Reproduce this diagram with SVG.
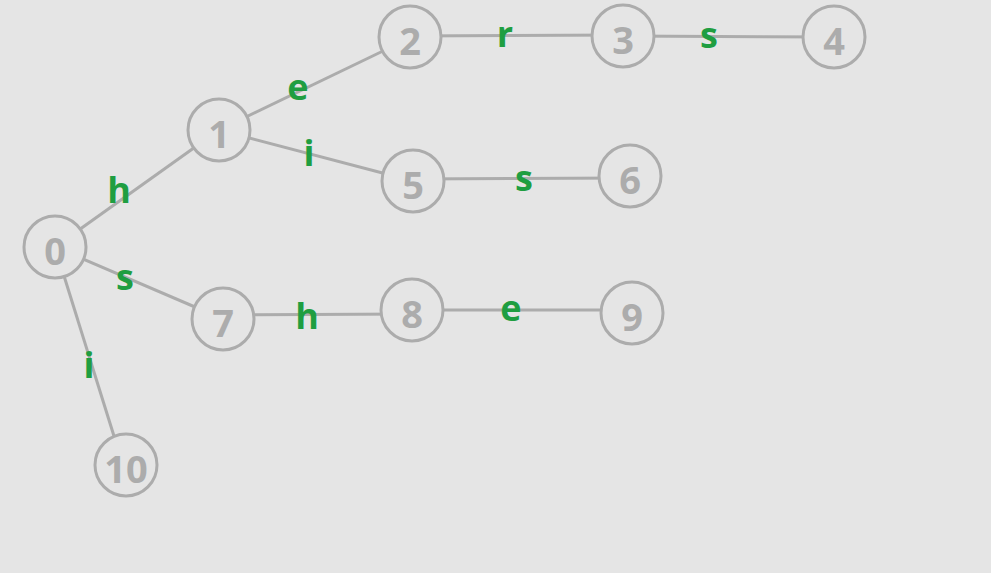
<svg xmlns="http://www.w3.org/2000/svg" width="991" height="573" viewBox="0 0 991 573">
<style>
.bg{fill:#e5e5e5}
.edge{stroke:#acacac;stroke-width:3;fill:none}
.node circle{fill:#e5e5e5;stroke:#acacac;stroke-width:3}
.node text{font-family:"Open Sans","Noto Sans",sans-serif;font-weight:bold;font-size:38px;fill:#acacac;text-anchor:middle}
.lbl{font-family:"Open Sans","Noto Sans",sans-serif;font-weight:bold;font-size:36px;fill:#1f9e41;text-anchor:middle}
</style>
<rect class="bg" x="0" y="0" width="991" height="573"/>
<g id="connectors">
<line class="edge" x1="55" y1="247" x2="219" y2="130"/>
<line class="edge" x1="219" y1="130" x2="410" y2="38"/>
<line class="edge" x1="410" y1="36" x2="623" y2="35"/>
<line class="edge" x1="623" y1="36" x2="834" y2="37"/>
<line class="edge" x1="219" y1="130" x2="413" y2="181"/>
<line class="edge" x1="413" y1="179" x2="630" y2="178"/>
<line class="edge" x1="55" y1="247" x2="223" y2="319"/>
<line class="edge" x1="223" y1="315" x2="412" y2="314"/>
<line class="edge" x1="412" y1="310" x2="632" y2="310"/>
<line class="edge" x1="55" y1="247" x2="123" y2="465"/>
<text class="lbl" x="119" y="203">h</text>
<text class="lbl" x="298" y="100">e</text>
<text class="lbl" x="309" y="166">i</text>
<text class="lbl" x="505" y="47">r</text>
<text class="lbl" x="709" y="48">s</text>
<text class="lbl" x="524" y="191">s</text>
<text class="lbl" x="125" y="290">s</text>
<text class="lbl" x="307" y="329">h</text>
<text class="lbl" x="511" y="321">e</text>
<text class="lbl" x="89" y="378">i</text>
</g>
<g id="n0" class="node"><circle cx="55" cy="247" r="31"/><text x="55" y="265">0</text></g>
<g id="n1" class="node"><circle cx="219" cy="130" r="31"/><text x="219" y="148">1</text></g>
<g id="n2" class="node"><circle cx="410" cy="37" r="31"/><text x="410" y="55">2</text></g>
<g id="n3" class="node"><circle cx="623" cy="36" r="31"/><text x="623" y="54">3</text></g>
<g id="n4" class="node"><circle cx="834" cy="37" r="31"/><text x="834" y="55">4</text></g>
<g id="n5" class="node"><circle cx="413" cy="181" r="31"/><text x="413" y="199">5</text></g>
<g id="n6" class="node"><circle cx="630" cy="176" r="31"/><text x="630" y="194">6</text></g>
<g id="n7" class="node"><circle cx="223" cy="319" r="31"/><text x="223" y="337">7</text></g>
<g id="n8" class="node"><circle cx="412" cy="310" r="31"/><text x="412" y="328">8</text></g>
<g id="n9" class="node"><circle cx="632" cy="313" r="31"/><text x="632" y="331">9</text></g>
<g id="n10" class="node"><circle cx="126" cy="465" r="31"/><text x="126" y="483">10</text></g>
</svg>
